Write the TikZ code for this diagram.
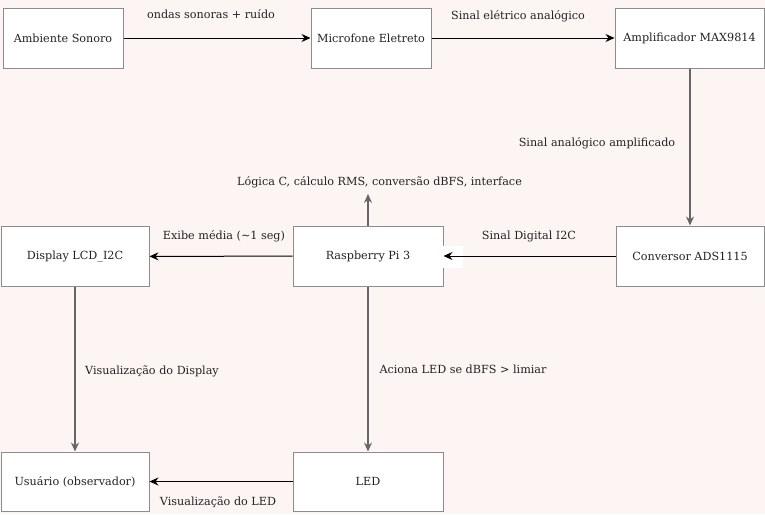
\documentclass[tikz,border=0pt]{standalone}
\usepackage{fontspec}
\setmainfont{DejaVu Serif}
\usetikzlibrary{arrows.meta}
\definecolor{bgc}{HTML}{FDF5F3}
\definecolor{boxline}{HTML}{8C8C8C}
\definecolor{vline}{HTML}{666666}
\definecolor{txt}{HTML}{222222}
\begin{document}
\begin{tikzpicture}[x=1pt,y=-1pt,
  blk/.style={draw=boxline,fill=white,line width=1pt,minimum height=60pt,inner sep=0pt,font=\fontsize{11.2}{13}\selectfont,text=txt},
  lbl/.style={font=\fontsize{11.2}{13}\selectfont,text=txt,inner sep=0pt},
  harr/.style={draw=black,line width=1pt,-{Stealth[length=9pt,width=8pt,inset=3pt]}},
  varr/.style={draw=vline,line width=1.5pt,-{Stealth[length=9pt,width=8pt,inset=3pt]}}]
\fill[bgc] (0,0) rectangle (765,514);
\useasboundingbox (0,0) rectangle (765,514);
\node[blk,minimum width=120pt] (amb) at (63,38) {Ambiente Sonoro};
\node[blk,minimum width=120pt] (mic) at (371,38) {Microfone Eletreto};
\node[blk,minimum width=149pt] (amp) at (689.5,38) {Amplificador MAX9814};
\node[blk,minimum width=148pt] (conv) at (690,256) {Conversor ADS1115};
\node[blk,minimum width=150pt] (rpi) at (368,256) {Raspberry Pi 3};
\node[blk,minimum width=148pt] (lcd) at (75,256.5) {Display LCD\_I2C};
\node[blk,minimum width=148pt,minimum height=59pt] (usr) at (75,481.5) {Usuário (observador)};
\node[blk,minimum width=150pt,minimum height=59pt] (led) at (368,481.5) {LED};
\coordinate (top) at (368,194);
\draw[harr] (amb) -- (mic);
\draw[harr] (mic) -- (amp);
\draw[varr] (amp.south -| conv.north) -- (conv.north);
\fill[white] (443,246) rectangle (463,268);
\draw[harr] (conv) -- (rpi);
\draw[harr] (rpi) -- (lcd);
\draw[varr] (rpi.north) -- (top);
\draw[varr] (lcd.south) -- (usr.north);
\draw[varr] (rpi.south) -- (led.north);
\draw[harr] (led) -- (usr);
\node[lbl] (l1) at (211,14) {ondas sonoras + ruído};
\node[lbl] (l2) at (518,16) {Sinal elétrico analógico};
\node[lbl] (l3) at (597,143) {Sinal analógico amplificado};
\node[lbl] (l4) at (379.5,182) {Lógica C, cálculo RMS, conversão dBFS, interface};
\node[lbl] (l5) at (224,236) {Exibe média (\textasciitilde1 seg)};
\node[lbl] (l6) at (529,236) {Sinal Digital I2C};
\node[lbl] (l7) at (152,371) {Visualização do Display};
\node[lbl] (l8) at (463,369) {Aciona LED se dBFS > limiar};
\node[lbl] (l9) at (218,502) {Visualização do LED};
\end{tikzpicture}
\end{document}
